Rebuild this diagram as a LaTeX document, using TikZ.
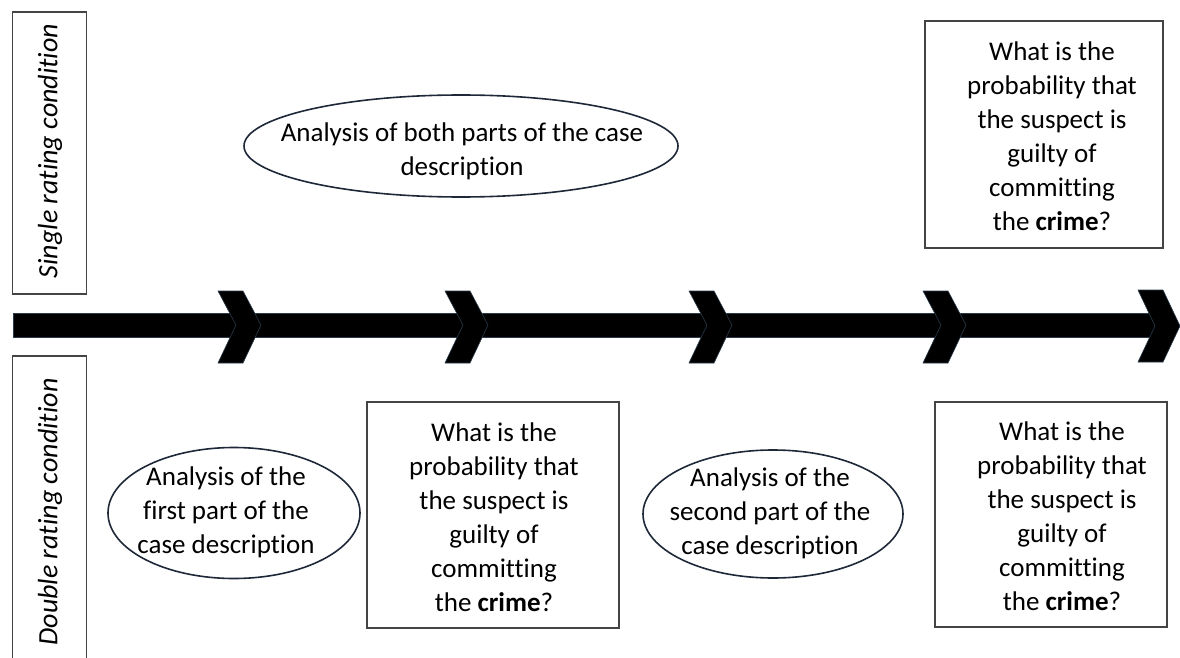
\documentclass[tikz,border=0pt]{standalone}
\usepackage{fontspec}
\setmainfont{Carlito}[Ligatures=NoCommon]
\usetikzlibrary{shapes.geometric}
\definecolor{boxgray}{HTML}{444444}
\definecolor{ovalblue}{HTML}{1E2838}
\definecolor{chevedge}{HTML}{2A3A4A}
\begin{document}
\begin{tikzpicture}[x=1pt,y=-1pt,
  txt/.style={font=\fontsize{27}{34}\selectfont, align=center, inner sep=0pt},
  qbox/.style={draw=boxgray, line width=1.4pt, rectangle, inner sep=0pt},
  oval/.style={draw=ovalblue, line width=1.6pt, ellipse, inner sep=0pt},
  sidebox/.style={draw=boxgray, line width=1.4pt, rectangle, inner sep=0pt},
  sidetxt/.style={font=\fontsize{28}{34}\selectfont\itshape, rotate=90, inner sep=0pt},
  chev/.style={fill=black, draw=chevedge, line width=0.6pt, line join=miter}]
\useasboundingbox (0,0) rectangle (1180,658);
\begin{scope}
\clip (0,0) rectangle (1180,658);
% side label boxes
\node[sidebox, minimum width=74pt, minimum height=282pt] (sbox) at (49.5,153) {};
\node[sidetxt] (stxt) at (50,151) {Single rating condition};
\node[sidebox, minimum width=74pt, minimum height=330pt] (dbox) at (49.5,521) {};
\node[sidetxt] (dtxt) at (50,512) {Double rating condition};
\end{scope}
% timeline bar
\coordinate (barstart) at (13,325);
\coordinate (barend) at (1165,325);
\fill[black] (13,313) rectangle (1165,337);
\draw[chevedge, line width=0.6pt] (13,313) rectangle (1165,337);
% chevrons
\foreach \x/\n in {218/c1,445/c2,689/c3,923/c4}{
  \draw[chev] (\x,291) -- ++(25,0) -- ++(18,34) -- ++(-18,38) -- ++(-25,0) -- ++(18,-38) -- cycle;
  \coordinate (\n) at (\x+21,325);
}
\draw[chev] (1138,290) -- ++(25,0) -- ++(17,36) -- ++(-17,36) -- ++(-25,0) -- ++(17,-36) -- cycle;
\coordinate (c5) at (1160,326);
% top ellipse
\node[oval, minimum width=434pt, minimum height=102pt] (e0) at (461,146) {};
\node[txt] (t0) at (462,151) {Analysis of both parts of the case\\description};
% top right box
\node[qbox, minimum width=238pt, minimum height=227pt] (b0) at (1044,134.5) {};
\node[txt] (q0) at (1052,136) {What is the\\probability that\\the suspect is\\guilty of\\committing\\the \textbf{crime}?};
% bottom left ellipse
\node[oval, minimum width=252pt, minimum height=131pt] (e1) at (234,513) {};
\node[txt] (t1) at (226,512) {Analysis of the\\first part of the\\case description};
% middle box
\node[qbox, minimum width=252pt, minimum height=226pt] (b1) at (493,515) {};
\node[txt] (q1) at (494,517) {What is the\\probability that\\the suspect is\\guilty of\\committing\\the \textbf{crime}?};
% bottom middle ellipse
\node[oval, minimum width=260pt, minimum height=128pt] (e2) at (773,514) {};
\node[txt] (t2) at (770,513) {Analysis of the\\second part of the\\case description};
% bottom right box
\node[qbox, minimum width=232pt, minimum height=225pt] (b2) at (1051,514.5) {};
\node[txt] (q2) at (1062,516) {What is the\\probability that\\the suspect is\\guilty of\\committing\\the \textbf{crime}?};
\end{tikzpicture}
\end{document}
